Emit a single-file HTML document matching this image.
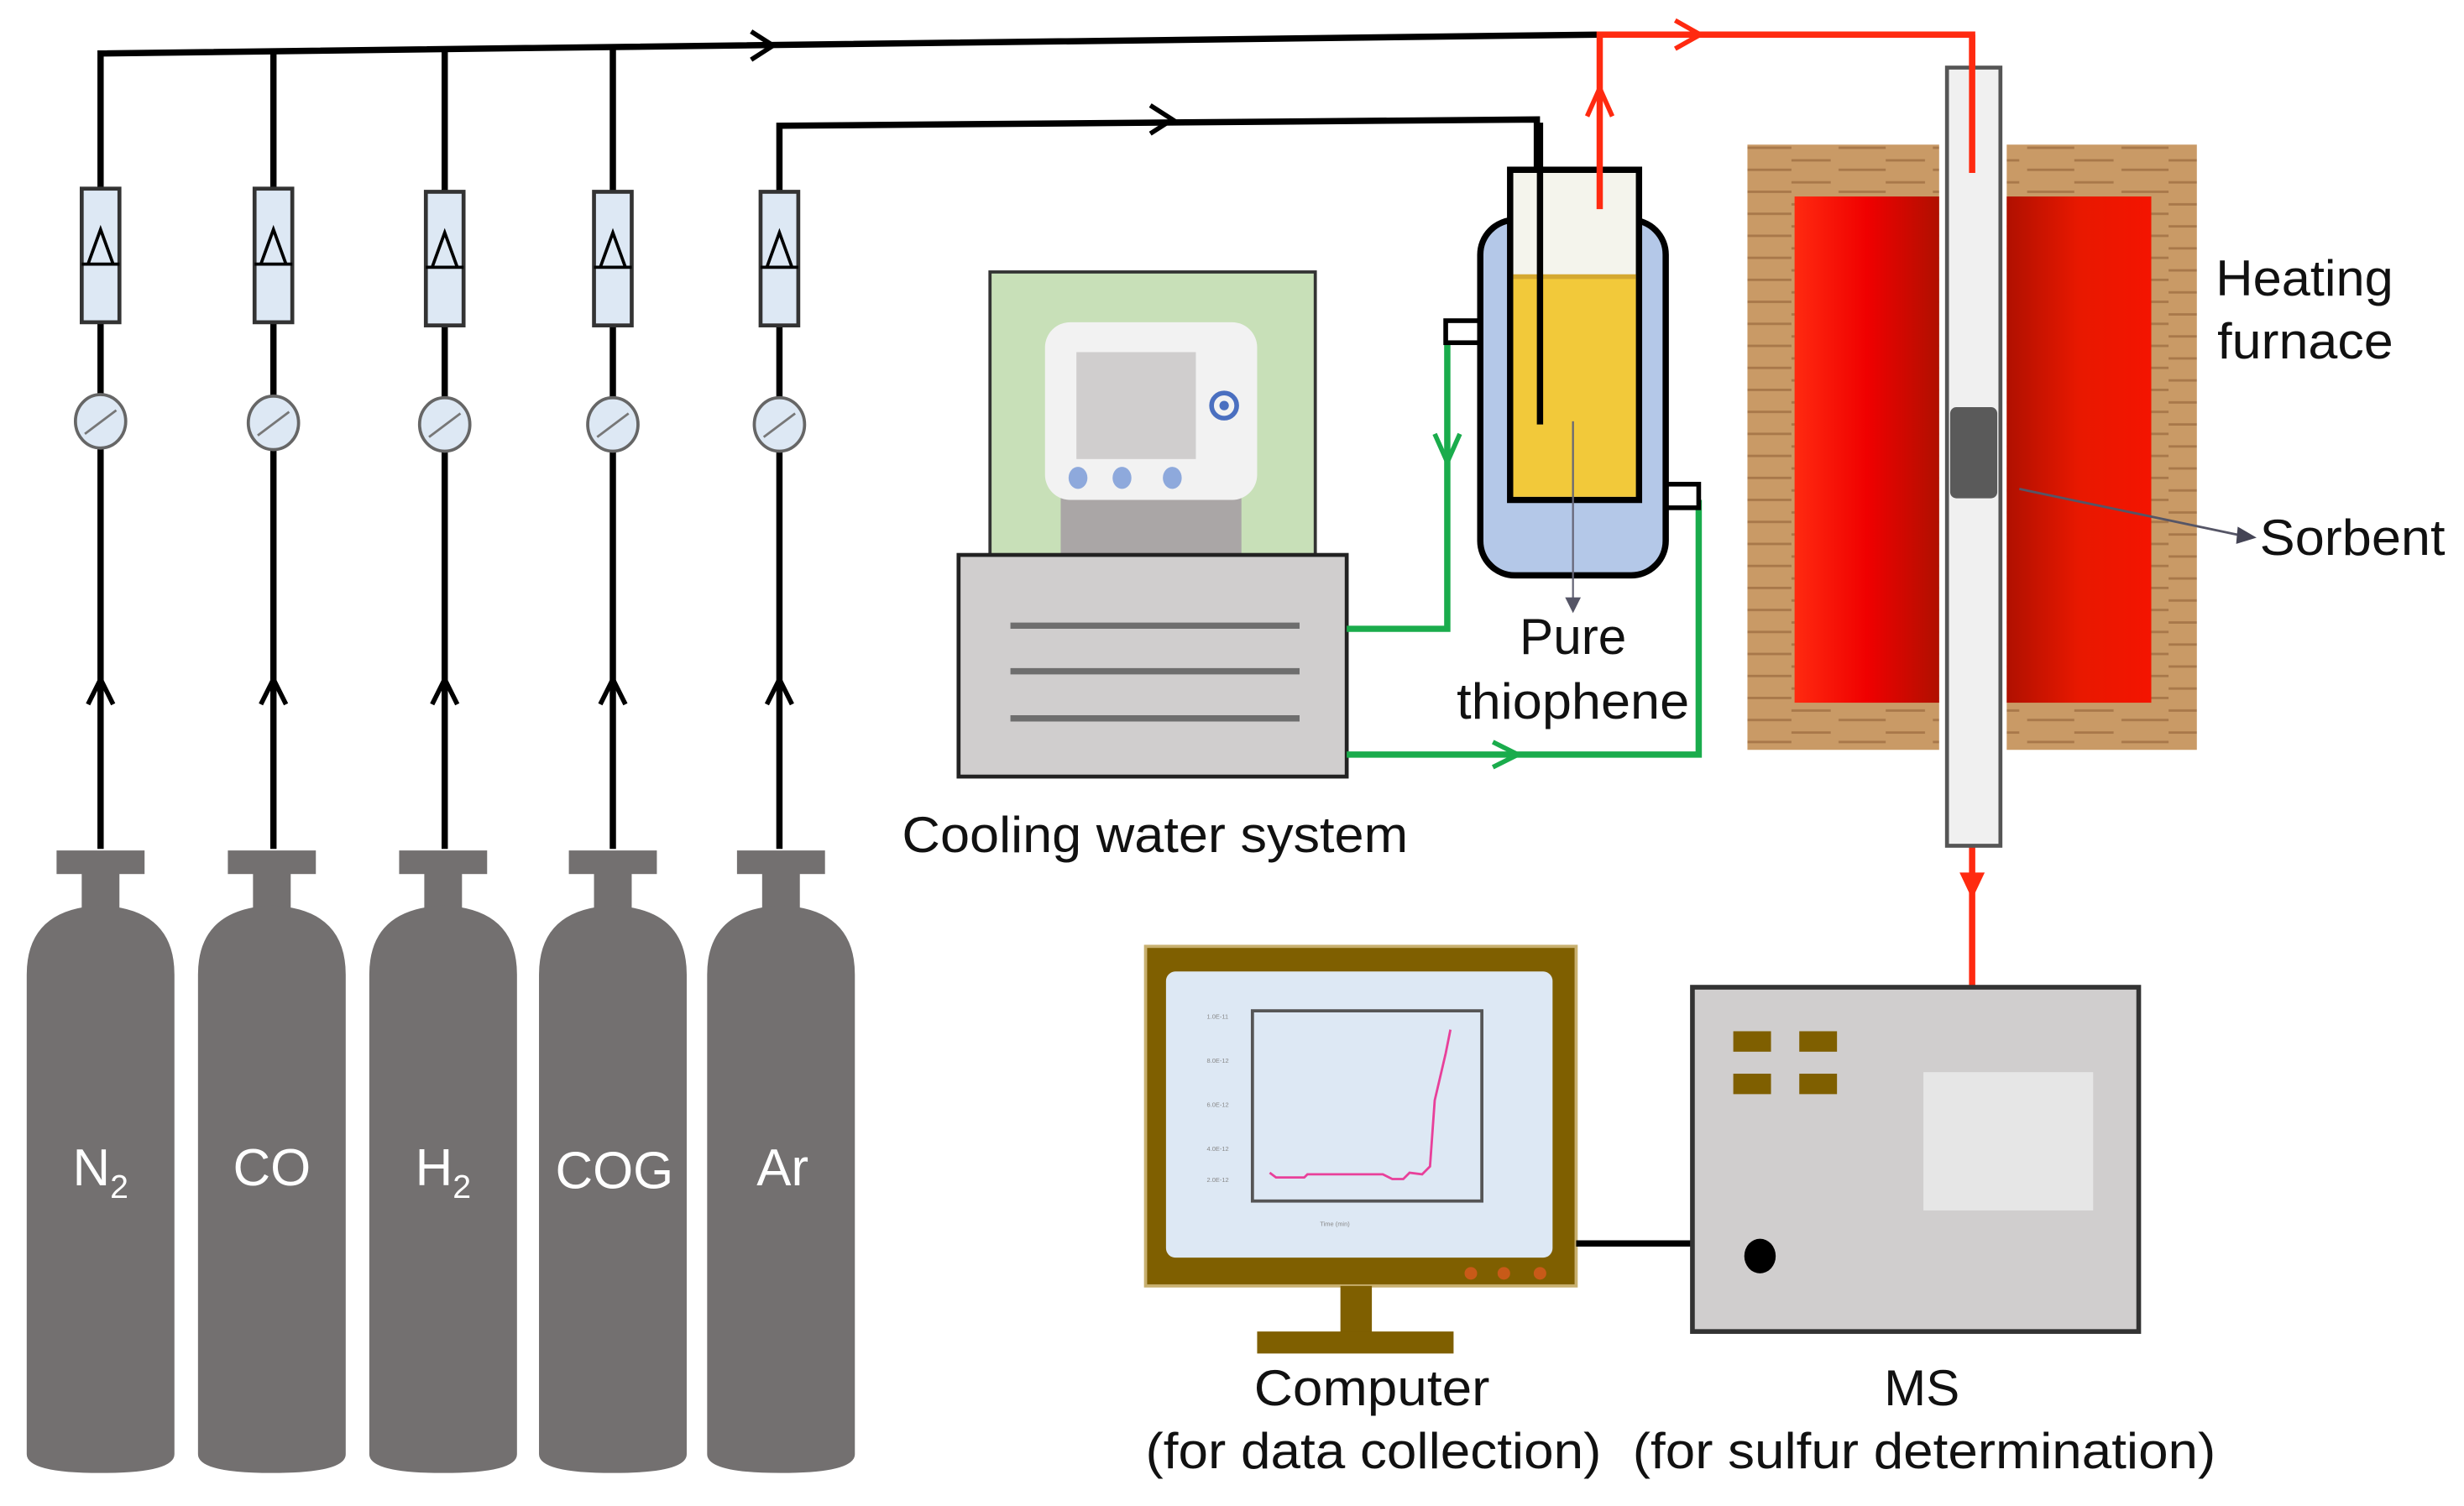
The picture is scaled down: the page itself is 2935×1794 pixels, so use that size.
<!DOCTYPE html>
<html><head><meta charset="utf-8"><style>
html,body{margin:0;padding:0;background:#fff;}
svg{display:block;}
text{font-family:"Liberation Sans",Arial,sans-serif;}
</style></head><body>
<svg width="2935" height="1794" viewBox="0 0 1568 958" preserveAspectRatio="none" xmlns="http://www.w3.org/2000/svg">
<defs>
<linearGradient id="rl" x1="0" x2="1" y1="0" y2="0"><stop offset="0" stop-color="#ff2a10"/><stop offset="0.5" stop-color="#f00000"/><stop offset="1" stop-color="#b01000"/></linearGradient>
<linearGradient id="rr" x1="0" x2="1" y1="0" y2="0"><stop offset="0" stop-color="#b01000"/><stop offset="0.5" stop-color="#e81800"/><stop offset="1" stop-color="#f41400"/></linearGradient>
<pattern id="wood" width="60" height="14" patternUnits="userSpaceOnUse"><rect width="60" height="14" fill="#c99a66"/><path d="M0 4 H25 M30 10 H60" stroke="#a8784a" stroke-width="1.5"/></pattern>
</defs>

<g stroke="#000" stroke-width="4" fill="none">
<polyline points="64,540 64,34 1018,22"/>
<line x1="174" y1="540" x2="174" y2="33"/>
<line x1="283" y1="540" x2="283" y2="32"/>
<line x1="390" y1="540" x2="390" y2="30"/>
<polyline points="496,540 496,80 978,76 978,270"/>
</g>
<g stroke="#000" stroke-width="3" fill="none">
<polyline points="478,20 492,29 478,38"/>
<polyline points="732,67 746,76 732,85"/>
<polyline points="56,448 64,432 72,448"/><polyline points="166,448 174,432 182,448"/><polyline points="275,448 283,432 291,448"/><polyline points="382,448 390,432 398,448"/><polyline points="488,448 496,432 504,448"/>
</g>

<g stroke="#333" stroke-width="2.5">
<g fill="#dde8f4">
<rect x="52" y="120" width="24" height="85"/><rect x="162" y="120" width="24" height="85"/><rect x="271" y="122" width="24" height="85"/><rect x="378" y="122" width="24" height="85"/><rect x="484" y="122" width="24" height="85"/>
</g>
<g fill="none" stroke="#000" stroke-width="2">
<path d="M52 168H76M56 168L64 146L72 168"/><path d="M162 168H186M166 168L174 146L182 168"/><path d="M271 170H295M275 170L283 148L291 170"/><path d="M378 170H402M382 170L390 148L398 170"/><path d="M484 170H508M488 170L496 148L504 170"/>
</g>
<g fill="#dde8f4" stroke="#666" stroke-width="2">
<ellipse cx="64" cy="268" rx="16" ry="17"/><ellipse cx="174" cy="269" rx="16" ry="17"/><ellipse cx="283" cy="270" rx="16" ry="17"/><ellipse cx="390" cy="270" rx="16" ry="17"/><ellipse cx="496" cy="270" rx="16" ry="17"/>
</g>
<g stroke="#777" stroke-width="1.5">
<line x1="54" y1="276" x2="74" y2="261"/><line x1="164" y1="277" x2="184" y2="262"/><line x1="273" y1="278" x2="293" y2="263"/><line x1="380" y1="278" x2="400" y2="263"/><line x1="486" y1="278" x2="506" y2="263"/>
</g>
</g>

<g fill="#737070">
<g id="cyl"><rect x="36" y="541" width="56" height="15"/><rect x="52" y="555" width="24" height="25"/><path d="M17 935V620Q17 578 64 576Q111 578 111 620V925Q111 937 64 937Q17 937 17 925Z"/></g>
<use href="#cyl" x="109"/><use href="#cyl" x="218"/><use href="#cyl" x="326"/><use href="#cyl" x="433"/>
</g>
<g fill="#fff" font-size="33" text-anchor="middle">
<text x="64" y="754">N<tspan font-size="21" dy="8">2</tspan></text>
<text x="173" y="754">CO</text>
<text x="282" y="754">H<tspan font-size="21" dy="8">2</tspan></text>
<text x="391" y="756">COG</text>
<text x="498" y="754">Ar</text>
</g>

<rect x="630" y="173" width="207" height="182" fill="#c8e0b8" stroke="#333" stroke-width="2"/>
<rect x="675" y="312" width="115" height="43" fill="#aaa6a6"/>
<rect x="665" y="205" width="135" height="113" rx="16" fill="#f2f2f2"/>
<rect x="685" y="224" width="76" height="68" fill="#d0cece"/>
<circle cx="779" cy="258" r="8" fill="none" stroke="#4a6fc0" stroke-width="3"/><circle cx="779" cy="258" r="3" fill="#4a6fc0"/>
<g fill="#8ea9dc"><ellipse cx="686" cy="304" rx="6" ry="7"/><ellipse cx="714" cy="304" rx="6" ry="7"/><ellipse cx="746" cy="304" rx="6" ry="7"/></g>
<rect x="610" y="353" width="247" height="141" fill="#d0cece" stroke="#222" stroke-width="2.5"/>
<g stroke="#6e6e6e" stroke-width="4"><line x1="643" y1="398" x2="827" y2="398"/><line x1="643" y1="427" x2="827" y2="427"/><line x1="643" y1="457" x2="827" y2="457"/></g>
<text x="574" y="542" font-size="32" textLength="322" lengthAdjust="spacingAndGlyphs" fill="#111">Cooling water system</text>

<g stroke="#1aac4c" stroke-width="4" fill="none">
<polyline points="857,400 921,400 921,212"/>
<polyline points="857,480 1081,480 1081,318"/>
<polyline points="913,276 921,294 929,276" stroke-width="3"/>
<polyline points="950,472 966,480 950,488" stroke-width="3"/>
</g>

<rect x="920" y="204" width="22" height="14" fill="#fff" stroke="#000" stroke-width="3"/>
<rect x="1060" y="308" width="21" height="15" fill="#fff" stroke="#000" stroke-width="3"/>
<rect x="942" y="140" width="118" height="226" rx="22" fill="#b4c8e8" stroke="#000" stroke-width="4"/>
<rect x="961" y="108" width="82" height="210" fill="#f4f4ec" stroke="#000" stroke-width="4"/>
<rect x="963" y="175" width="78" height="141" fill="#f2c93a"/>
<line x1="963" y1="176" x2="1041" y2="176" stroke="#d4a830" stroke-width="3"/>
<line x1="980" y1="78" x2="980" y2="270" stroke="#000" stroke-width="4"/>
<line x1="1001" y1="268" x2="1001" y2="382" stroke="#667" stroke-width="1.2"/>
<polygon points="996,380 1006,380 1001,390" fill="#556"/>
<text x="967" y="416" font-size="32" textLength="68" lengthAdjust="spacingAndGlyphs" fill="#111">Pure</text>
<text x="927" y="457" font-size="32" textLength="148" lengthAdjust="spacingAndGlyphs" fill="#111">thiophene</text>

<g stroke="#ff2a10" stroke-width="4" fill="none">
<polyline points="1018,133 1018,22 1255,22 1255,110"/>
<polyline points="1010,74 1018,56 1026,74" stroke-width="3"/>
<polyline points="1066,13 1082,22 1066,31" stroke-width="3"/>
<line x1="1255" y1="538" x2="1255" y2="628"/>
</g>
<polygon points="1247,555 1263,555 1255,572" fill="#ff2a10"/>

<rect x="1112" y="92" width="122" height="385" fill="url(#wood)"/>
<rect x="1277" y="92" width="121" height="385" fill="url(#wood)"/>
<rect x="1142" y="125" width="92" height="322" fill="url(#rl)"/>
<rect x="1277" y="125" width="92" height="322" fill="url(#rr)"/>
<rect x="1239" y="43" width="34" height="495" fill="#f0f0f0" stroke="#555" stroke-width="2.5"/>
<line x1="1255" y1="22" x2="1255" y2="110" stroke="#ff2a10" stroke-width="4"/>
<rect x="1241" y="259" width="30" height="58" rx="4" fill="#5a5a5a"/>
<line x1="1285" y1="311" x2="1428" y2="341" stroke="#556" stroke-width="1.5"/>
<polygon points="1424,335 1436,342 1423,346" fill="#445"/>
<text x="1410" y="188" font-size="32" textLength="113" lengthAdjust="spacingAndGlyphs" fill="#111">Heating</text>
<text x="1411" y="228" font-size="32" textLength="112" lengthAdjust="spacingAndGlyphs" fill="#111">furnace</text>
<text x="1438" y="353" font-size="32" textLength="118" lengthAdjust="spacingAndGlyphs" fill="#111">Sorbent</text>

<rect x="729" y="602" width="274" height="216" fill="#7f5f00" stroke="#c8b070" stroke-width="2"/>
<rect x="742" y="618" width="246" height="182" rx="6" fill="#dde8f4"/>
<rect x="797" y="643" width="146" height="121" fill="none" stroke="#555" stroke-width="2"/>
<g fill="#888" font-size="4"><text x="768" y="648">1.0E-11</text><text x="768" y="676">8.0E-12</text><text x="768" y="704">6.0E-12</text><text x="768" y="732">4.0E-12</text><text x="768" y="752">2.0E-12</text><text x="840" y="780">Time (min)</text></g>
<polyline points="808,746 812,749 830,749 832,747 880,747 886,750 893,750 897,746 905,747 910,742 913,700 920,670 923,655" fill="none" stroke="#e8409a" stroke-width="1.5"/>
<g fill="#c85a18"><circle cx="936" cy="810" r="4"/><circle cx="957" cy="810" r="4"/><circle cx="980" cy="810" r="4"/></g>
<rect x="853" y="818" width="20" height="32" fill="#7f5f00"/>
<rect x="800" y="847" width="125" height="14" fill="#7f5f00"/>
<line x1="1003" y1="791" x2="1077" y2="791" stroke="#000" stroke-width="4"/>

<rect x="1077" y="628" width="284" height="219" fill="#d0cece" stroke="#333" stroke-width="3"/>
<g fill="#7f5f00"><rect x="1103" y="656" width="24" height="13"/><rect x="1145" y="656" width="24" height="13"/><rect x="1103" y="683" width="24" height="13"/><rect x="1145" y="683" width="24" height="13"/></g>
<rect x="1224" y="682" width="108" height="88" fill="#e6e6e6"/>
<ellipse cx="1120" cy="799" rx="10" ry="11" fill="#000"/>

<text x="798" y="894" font-size="32" textLength="150" lengthAdjust="spacingAndGlyphs" fill="#111">Computer</text>
<text x="729" y="934" font-size="32" textLength="290" lengthAdjust="spacingAndGlyphs" fill="#111">(for data collection)</text>
<text x="1199" y="894" font-size="32" textLength="48" lengthAdjust="spacingAndGlyphs" fill="#111">MS</text>
<text x="1039" y="934" font-size="32" textLength="371" lengthAdjust="spacingAndGlyphs" fill="#111">(for sulfur determination)</text>
</svg>
</body></html>
